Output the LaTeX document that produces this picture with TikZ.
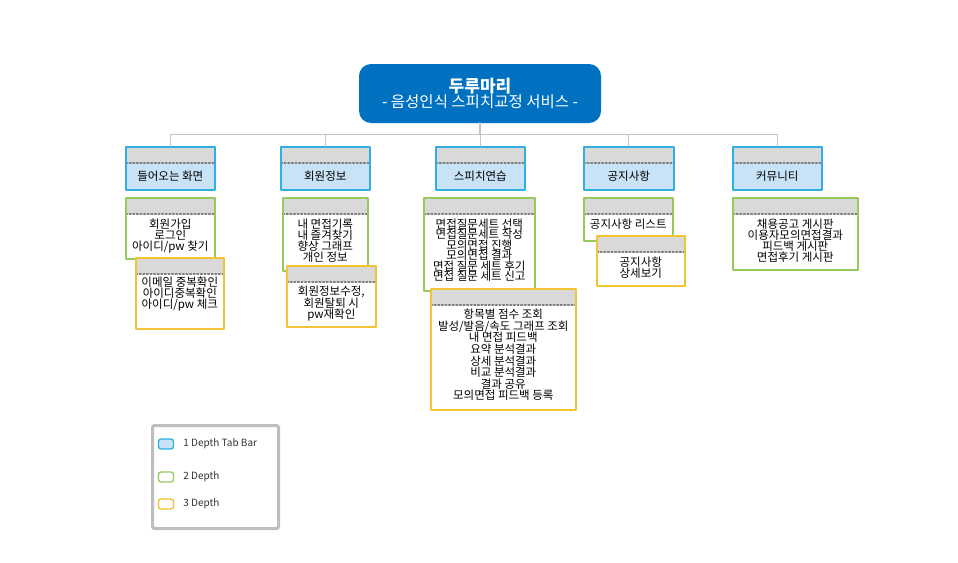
\documentclass[tikz,border=0pt]{standalone}
\usepackage{fontspec}
\newfontfamily\kr{Noto Sans CJK KR}
\usetikzlibrary{positioning}
\definecolor{titleblue}{RGB}{0,112,192}
\definecolor{tabline}{RGB}{50,175,225}
\definecolor{tabfill}{RGB}{200,226,246}
\definecolor{hdrgray}{RGB}{217,217,217}
\definecolor{greenline}{RGB}{150,202,90}
\definecolor{yellowline}{RGB}{240,196,50}
\definecolor{linkgray}{RGB}{196,196,196}
\definecolor{legline}{RGB}{190,190,190}
\tikzset{
  box/.style={draw,line width=1.6pt,anchor=north west,inner sep=0pt,
    path picture={
      \fill[hdrgray] (path picture bounding box.north west) rectangle ([yshift=-16pt]path picture bounding box.north east);
      \draw[dotted,gray] ([yshift=-16pt]path picture bounding box.north west) -- ([yshift=-16pt]path picture bounding box.north east);}},
  tabbox/.style={box,draw=tabline,fill=tabfill,minimum height=43pt},
  twobox/.style={box,draw=greenline,fill=white},
  threebox/.style={box,draw=yellowline,fill=white},
  boxtext/.style={font=\kr\fontsize{11.5}{11}\selectfont,align=center,inner sep=0pt},
  link/.style={draw=linkgray,line width=1.2pt},
  legicon/.style={rounded corners=2.5pt,line width=1.4pt,minimum width=15pt,minimum height=10pt,inner sep=0pt},
  legtext/.style={font=\kr\fontsize{10}{12}\selectfont,text=black!80,anchor=west,inner sep=0pt}
}
\begin{document}
\begin{tikzpicture}[line cap=round,line join=round,x=1pt,y=-1pt]
\useasboundingbox (0,0) rectangle (958,562);
% root
\node[fill=titleblue,rounded corners=12pt,minimum width=242pt,minimum height=59pt,text=white,align=center,inner sep=0pt] (root) at (480,93.5)
  {{\kr\fontsize{17}{20}\selectfont\bfseries 두루마리}\\{\kr\fontsize{15.5}{19}\selectfont - 음성인식 스피치교정 서비스 -}};
% 1 depth
\node[tabbox,minimum width=89pt] (tab1) at (125,146) {};
\node[tabbox,minimum width=89pt] (tab2) at (280,146) {};
\node[tabbox,minimum width=89pt] (tab3) at (435,146) {};
\node[tabbox,minimum width=90pt] (tab4) at (583,146) {};
\node[tabbox,minimum width=89pt] (tab5) at (732,146) {};
\foreach \t in {tab1,tab2,tab3,tab4,tab5}
  \draw[link] (root.south) -- ++(0,11) -| (\t.north);
\node[boxtext,below=25pt of tab1.north] (tab1t) {들어오는 화면};
\node[boxtext,below=25pt of tab2.north] (tab2t) {회원정보};
\node[boxtext,below=25pt of tab3.north] (tab3t) {스피치연습};
\node[boxtext,below=25pt of tab4.north] (tab4t) {공지사항};
\node[boxtext,below=25pt of tab5.north] (tab5t) {커뮤니티};
% 2 depth
\node[twobox,minimum width=89pt,minimum height=61pt] (join) at (125,197) {};
\node[boxtext,below=21.5pt of join.north] (joint) {회원가입\\로그인\\아이디/pw 찾기};
\node[twobox,minimum width=85pt,minimum height=73pt] (mine) at (282,197) {};
\node[boxtext,below=21.5pt of mine.north] (minet) {내 면접기록\\내 즐겨찾기\\향상 그래프\\개인 정보};
\node[twobox,minimum width=111pt,minimum height=93pt] (qset) at (423,197) {};
\node[boxtext,below=21.5pt of qset.north,font=\kr\fontsize{11.5}{10.5}\selectfont] (qsett) {면접질문세트 선택\\면접질문세트 작성\\모의면접 진행\\모의면접 결과\\면접 질문 세트 후기\\면접 질문 세트 신고};
\node[twobox,minimum width=89pt,minimum height=43pt] (nlist) at (583,197) {};
\node[boxtext,below=22pt of nlist.north] (nlistt) {공지사항 리스트};
\node[twobox,minimum width=125pt,minimum height=72pt] (board) at (732,197) {};
\node[boxtext,below=21.5pt of board.north] (boardt) {채용공고 게시판\\이용자모의면접결과\\피드백 게시판\\면접후기 게시판};
% 3 depth
\node[threebox,minimum width=88pt,minimum height=71pt] (check) at (135,257) {};
\node[boxtext,below=19.5pt of check.north] (checkt) {이메일 중복확인\\아이디중복확인\\아이디/pw 체크};
\node[threebox,minimum width=89pt,minimum height=61pt] (edit) at (286,265) {};
\node[boxtext,below=20.5pt of edit.north] (editt) {회원정보수정,\\회원탈퇴 시\\pw재확인};
\node[threebox,minimum width=145pt,minimum height=121pt] (result) at (430,288) {};
\node[boxtext,below=21pt of result.north,font=\kr\fontsize{11.5}{11.6}\selectfont] (resultt) {항목별 점수 조회\\발성/발음/속도 그래프 조회\\내 면접 피드백\\요약 분석결과\\상세 분석결과\\비교 분석결과\\결과 공유\\모의면접 피드백 등록};
\node[threebox,minimum width=88pt,minimum height=50pt] (ndetail) at (596,235) {};
\node[boxtext,below=22pt of ndetail.north] (ndetailt) {공지사항\\상세보기};
% legend
\node[draw=legline,line width=3pt,rounded corners=2pt,minimum width=126pt,minimum height=103pt,anchor=north west] (legend) at (151,424) {};
\node[legicon,draw=tabline,fill=tabfill] (leg1) at (166,444) {};
\node[legicon,draw=greenline,fill=white] (leg2) at (166,477) {};
\node[legicon,draw=yellowline,fill=white] (leg3) at (166,504) {};
\node[legtext,right=9pt of leg1] (leg1t) {1 Depth Tab Bar};
\node[legtext,right=9pt of leg2] (leg2t) {2 Depth};
\node[legtext,right=9pt of leg3] (leg3t) {3 Depth};
\end{tikzpicture}
\end{document}
